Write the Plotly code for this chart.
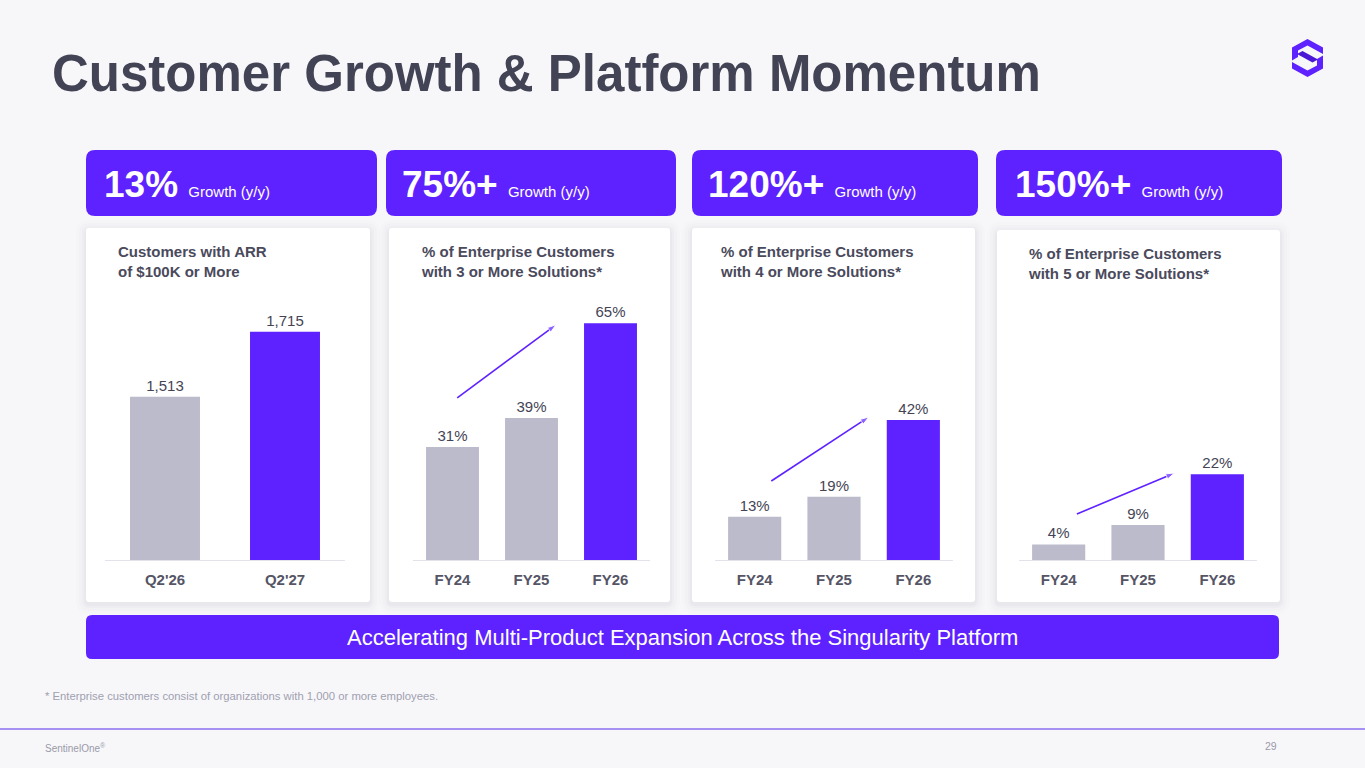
import plotly.graph_objects as go

# ---- data ----
arr_quarters = ["Q2'26", "Q2'27"]
arr_customers = [1513, 1715]

fiscal_years = ["FY24", "FY25", "FY26"]
pct_3plus = [31, 39, 65]
pct_4plus = [13, 19, 42]
pct_5plus = [4, 9, 22]

growth_headline = ["13%", "75%+", "120%+", "150%+"]
panel_titles = [
    "Customers with ARR<br>of $100K or More",
    "% of Enterprise Customers<br>with 3 or More Solutions*",
    "% of Enterprise Customers<br>with 4 or More Solutions*",
    "% of Enterprise Customers<br>with 5 or More Solutions*",
]

TITLE = "Customer Growth & Platform Momentum"
BANNER = "Accelerating Multi-Product Expansion Across the Singularity Platform"
FOOTNOTE = "* Enterprise customers consist of organizations with 1,000 or more employees."

W, H = 1365, 768
FONT = "Liberation Sans, Arial, sans-serif"
PURPLE = "#5E21FF"
GRAY_BAR = "#BBBBCC"
BG = "#F7F7FA"


def px(x):
    return x / W


def py(y):
    return 1 - y / H


def rrect(x0, y0, x1, y1, r, color):
    # rounded rectangle path in paper coords
    p = (f"M {px(x0 + r)} {py(y0)} L {px(x1 - r)} {py(y0)} "
         f"Q {px(x1)} {py(y0)} {px(x1)} {py(y0 + r)} L {px(x1)} {py(y1 - r)} "
         f"Q {px(x1)} {py(y1)} {px(x1 - r)} {py(y1)} L {px(x0 + r)} {py(y1)} "
         f"Q {px(x0)} {py(y1)} {px(x0)} {py(y1 - r)} L {px(x0)} {py(y0 + r)} "
         f"Q {px(x0)} {py(y0)} {px(x0 + r)} {py(y0)} Z")
    return dict(type="path", path=p, xref="paper", yref="paper",
                fillcolor=color, line=dict(width=0), layer="below")


def poly(points, color):
    p = "M " + " L ".join(f"{px(x)} {py(y)}" for x, y in points) + " Z"
    return dict(type="path", path=p, xref="paper", yref="paper",
                fillcolor=color, line=dict(width=0), layer="above")


fig = go.Figure()

# cats, values, colours, label template, x-domain px, y-range, bar width, trend arrow (x0,y0,x1,y1)
panels = [
    (arr_quarters, arr_customers, [GRAY_BAR, PURPLE], "%{y:,}", (105, 345), [1006, 1814], 0.583, None),
    (fiscal_years, pct_3plus, [GRAY_BAR, GRAY_BAR, PURPLE], "%{y}%", (413, 650), [0, 71.4], 0.67,
     (0.06, 44.5, 1.31, 64.6)),
    (fiscal_years, pct_4plus, [GRAY_BAR, GRAY_BAR, PURPLE], "%{y}%", (715, 953), [0, 78], 0.67,
     (0.21, 23.7, 1.44, 42.9)),
    (fiscal_years, pct_5plus, [GRAY_BAR, GRAY_BAR, PURPLE], "%{y}%", (1019, 1257), [0, 66.7], 0.67,
     (0.23, 11.8, 1.46, 22.3)),
]

layout_axes = {}
for i, (cats, vals, cols, tmpl, xdom, yrng, bw, arrow) in enumerate(panels, start=1):
    xa = "x" if i == 1 else f"x{i}"
    ya = "y" if i == 1 else f"y{i}"
    pos = list(range(len(cats)))
    fig.add_trace(go.Bar(
        x=pos, y=vals, width=bw, marker=dict(color=cols, line=dict(width=0)),
        texttemplate=tmpl, textposition="outside", cliponaxis=False,
        textfont=dict(family=FONT, size=15, color="#444455"),
        xaxis=xa, yaxis=ya, showlegend=False, hoverinfo="skip",
    ))
    if arrow:
        fig.add_trace(go.Scatter(
            x=[arrow[0], arrow[2]], y=[arrow[1], arrow[3]], mode="lines+markers",
            line=dict(color=PURPLE, width=1.6),
            marker=dict(symbol="arrow", angleref="previous", size=[0, 9], color=PURPLE),
            xaxis=xa, yaxis=ya, showlegend=False, hoverinfo="skip", cliponaxis=False,
        ))
    key = "" if i == 1 else str(i)
    layout_axes["xaxis" + key] = dict(
        domain=[px(xdom[0]), px(xdom[1])], anchor=ya, range=[-0.5, len(cats) - 0.5],
        tickvals=pos, ticktext=cats,
        showline=True, linecolor="#E2E2EA", linewidth=1, ticks="",
        showgrid=False, zeroline=False, ticklabelstandoff=6,
        tickfont=dict(family=FONT, size=15, color="#555566", weight="bold"),
        fixedrange=True,
    )
    layout_axes["yaxis" + key] = dict(
        domain=[py(560), py(300)], anchor=xa, range=yrng,
        visible=False, showgrid=False, zeroline=False, fixedrange=True,
    )

shapes = []
# card shadows + white cards
cards = [(86, 228, 370, 602), (389, 228, 670, 602), (692, 228, 975, 602), (997, 230, 1280, 602)]
for (x0, y0, x1, y1) in cards:
    for k, a in [(10, 0.012), (7, 0.015), (4, 0.02), (2, 0.03)]:
        shapes.append(rrect(x0 - k, y0 - k + 2, x1 + k, y1 + k + 2, 4 + k, f"rgba(60,60,90,{a})"))
    shapes.append(rrect(x0, y0, x1, y1, 3, "#FFFFFF"))

# purple headline tiles
tiles = [(86, 150, 377, 216), (386, 150, 676, 216), (692, 150, 978, 216), (996, 150, 1282, 216)]
for (x0, y0, x1, y1) in tiles:
    shapes.append(rrect(x0, y0, x1, y1, 9, PURPLE))

# bottom banner
shapes.append(rrect(86, 615, 1279, 659, 6, PURPLE))

# footer rule
shapes.append(dict(type="line", xref="paper", yref="paper", x0=0, x1=1,
                   y0=py(729), y1=py(729), line=dict(color="#8D70F2", width=1.5)))

# logo (stylised hexagon S)
cx, cy = 1307.5, 58
top_piece = [(1292, 47.5), (1307.5, 39), (1323, 47.5), (1323, 54), (1307.5, 45.5),
             (1298, 50.5), (1298, 57), (1292, 60.5)]
mid_piece = [(1297, 54), (1302.5, 51), (1318, 59.5), (1312.5, 62.5)]
bottom_piece = [(2 * cx - x, 2 * cy - y) for x, y in top_piece]
shapes.append(poly(top_piece, PURPLE))
shapes.append(poly(mid_piece, "#4A17D6"))
shapes.append(poly(bottom_piece, PURPLE))

annotations = []
annotations.append(dict(text=f"<b>{TITLE}</b>", x=px(50), y=py(73), xref="paper", yref="paper",
                        xanchor="left", yanchor="middle", showarrow=False,
                        font=dict(family=FONT, size=51, color="#434356")))

tile_text_x = [102, 400, 706, 1013]
for tx, g in zip(tile_text_x, growth_headline):
    annotations.append(dict(
        text=f"<b>{g}</b> <span style='font-size:15px'>Growth (y/y)</span>",
        x=px(tx), y=py(184), xref="paper", yref="paper", xanchor="left", yanchor="middle",
        showarrow=False, font=dict(family=FONT, size=37, color="#FFFFFF")))

title_x = [116, 419, 718, 1026]
title_y = [262, 262, 261, 263]
for tx, tyy, t in zip(title_x, title_y, panel_titles):
    annotations.append(dict(
        text=f"<b>{t}</b>", x=px(tx), y=py(tyy), xref="paper", yref="paper",
        xanchor="left", yanchor="middle", align="left", showarrow=False,
        font=dict(family=FONT, size=15, color="#4A4A5C")))

annotations.append(dict(text=BANNER, x=px(682), y=py(637), xref="paper", yref="paper",
                        xanchor="center", yanchor="middle", showarrow=False,
                        font=dict(family=FONT, size=22, color="#FFFFFF")))
annotations.append(dict(text=FOOTNOTE, x=px(43), y=py(696), xref="paper", yref="paper",
                        xanchor="left", yanchor="middle", showarrow=False,
                        font=dict(family=FONT, size=11.3, color="#A0A0B0")))
annotations.append(dict(text="SentinelOne<sup>®</sup>", x=px(43), y=py(748), xref="paper", yref="paper",
                        xanchor="left", yanchor="middle", showarrow=False,
                        font=dict(family=FONT, size=10, color="#9A9AA8")))
annotations.append(dict(text="29", x=px(1279), y=py(746), xref="paper", yref="paper",
                        xanchor="right", yanchor="middle", showarrow=False,
                        font=dict(family=FONT, size=10.5, color="#9A9AA8")))

fig.update_layout(
    width=W, height=H, margin=dict(l=0, r=0, t=0, b=0),
    paper_bgcolor=BG, plot_bgcolor="rgba(0,0,0,0)",
    font=dict(family=FONT),
    shapes=shapes, annotations=annotations, showlegend=False,
    **layout_axes,
)

fig.write_html("out.html", config={"displayModeBar": False},
               post_script="document.body.style.margin='0';")
